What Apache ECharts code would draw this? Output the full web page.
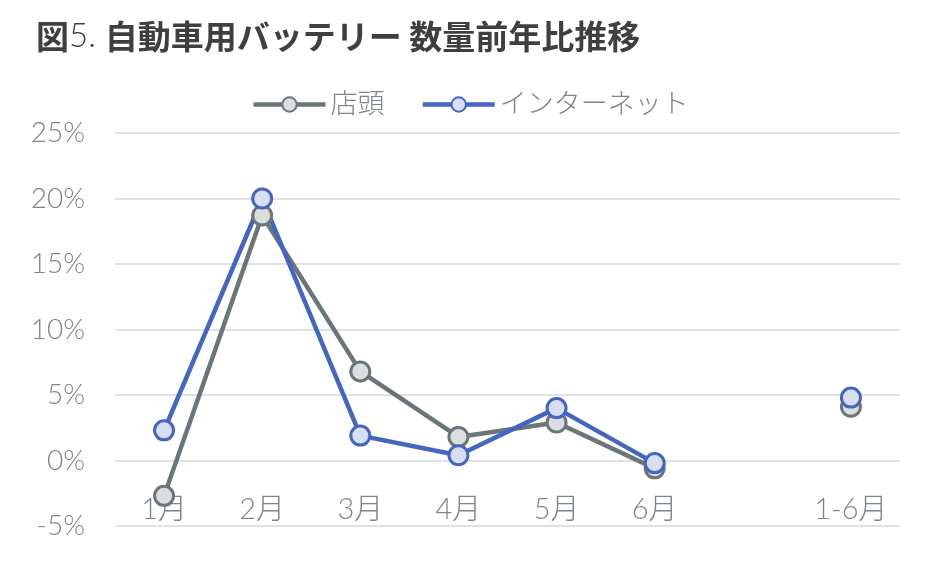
<!DOCTYPE html>
<html><head><meta charset="utf-8">
<script src="https://cdn.jsdelivr.net/npm/echarts@6/dist/echarts.min.js"></script>
<style>html,body{margin:0;padding:0;background:#fff}#c{width:940px;height:565px}</style>
</head><body><div id="c"></div>
<script>
const categories = ['1月','2月','3月','4月','5月','6月','','1-6月'];
const storeValues = [-2.7, 18.7, 6.8, 1.8, 2.9, -0.6, null, 4.1];
const netValues = [2.3, 20.0, 1.9, 0.4, 4.0, -0.2, null, 4.8];
const yTicks = [-5, 0, 5, 10, 15, 20, 25];

const chart = echarts.init(document.getElementById('c'), null, {renderer:'canvas'});
const labelFont = 'Lato, "Noto Sans CJK JP", sans-serif';
chart.setOption({
  backgroundColor:'#fff',
  animation:false,
  title:{
    text:'{b|図}{l|5. }{b|自動車用バッテリー 数量前年比推移}',
    left:31, top:15,
    textStyle:{
      rich:{
        b:{fontFamily:'"Noto Sans CJK JP", sans-serif', fontWeight:'bold', fontSize:33, color:'#3f3f3f'},
        l:{fontFamily:'Lato, sans-serif', fontWeight:300, fontSize:33, color:'#3f3f3f'}
      }
    }
  },
  legend:{
    top:86, left:'center',
    itemWidth:72, itemHeight:18, itemGap:36,
    lineStyle:{width:4.5},
    textStyle:{fontFamily:labelFont, fontSize:27, fontWeight:300, color:'#7f858c'},
    data:['店頭','インターネット']
  },
  grid:{left:115, right:40, top:133, bottom:39, outerBoundsMode:'none', containLabel:false},
  xAxis:{
    type:'category', data:categories, boundaryGap:true,
    axisLine:{show:false}, axisTick:{show:false},
    axisLabel:{margin:-31, fontFamily:labelFont, fontSize:29, fontWeight:300, color:'#7f858c', interval:0},
    splitLine:{show:false}
  },
  yAxis:{
    type:'value', min:yTicks[0], max:yTicks[yTicks.length-1], interval:5,
    axisLine:{show:false}, axisTick:{show:false},
    axisLabel:{margin:30, fontFamily:labelFont, fontSize:28, fontWeight:300, color:'#7f858c', formatter:v=>v+'%'},
    splitLine:{lineStyle:{color:'#e0e1e3', width:2}}
  },
  series:[
    {name:'店頭', type:'line', data:storeValues, connectNulls:false,
     symbol:'circle', symbolSize:19,
     lineStyle:{color:'#6c757a', width:4.5},
     itemStyle:{color:'#dcdddf', borderColor:'#6c757a', borderWidth:3}},
    {name:'インターネット', type:'line', data:netValues, connectNulls:false,
     symbol:'circle', symbolSize:19,
     lineStyle:{color:'#4466c0', width:4.5},
     itemStyle:{color:'#d9dff2', borderColor:'#4466c0', borderWidth:3}}
  ]
});
</script></body></html>
